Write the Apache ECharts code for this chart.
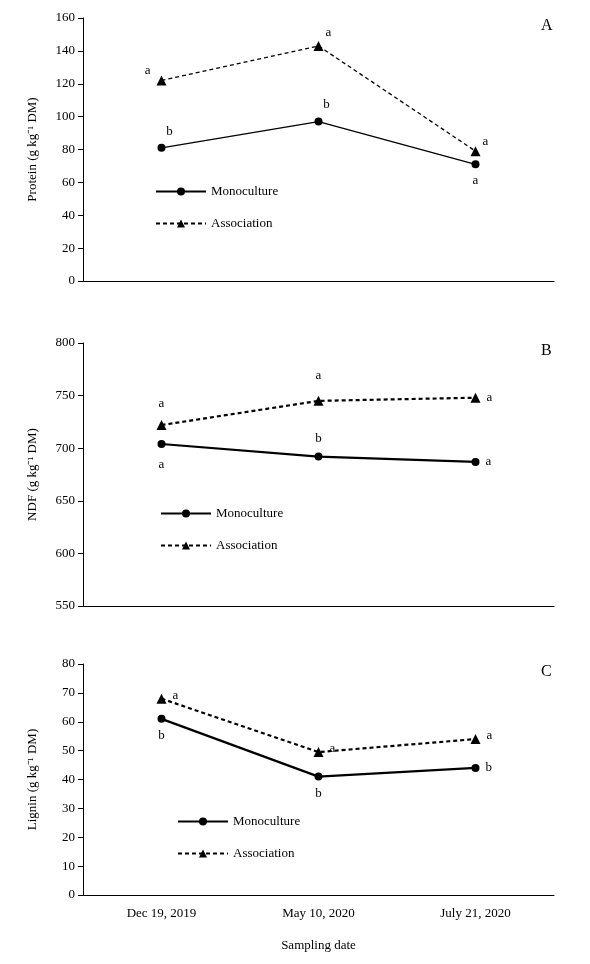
<!DOCTYPE html>
<html><head><meta charset="utf-8">
<script src="https://cdn.jsdelivr.net/npm/echarts@6/dist/echarts.min.js"></script>
<style>html,body{margin:0;background:#fff}#c{width:590px;height:964px}</style>
</head><body><div id="c"></div>
<script>
const categories = ['Dec 19, 2019', 'May 10, 2020', 'July 21, 2020'];
const proteinMono = [81, 97, 71];
const proteinAssoc = [122, 143, 79];
const ndfMono = [704, 692, 687];
const ndfAssoc = [722, 745, 748];
const ligninMono = [61, 41, 44];
const ligninAssoc = [68, 49.5, 54];
const proteinMonoLetters = ['b', 'b', 'a'];
const proteinAssocLetters = ['a', 'a', 'a'];
const ndfMonoLetters = ['a', 'b', 'a'];
const ndfAssocLetters = ['a', 'a', 'a'];
const ligninMonoLetters = ['b', 'b', 'b'];
const ligninAssocLetters = ['a', 'a', 'a'];
const yTitles = ['Protein (g kg⁻¹ DM)', 'NDF (g kg⁻¹ DM)', 'Lignin (g kg⁻¹ DM)'];
const panelLabels = ['A', 'B', 'C'];

const F = 'Liberation Serif';
const grids = [
  {left: 83, top: 18, width: 471, height: 263},
  {left: 83, top: 343, width: 471, height: 263},
  {left: 83, top: 664, width: 471, height: 231}
];
const yAx = [{min: 0, max: 160, interval: 20}, {min: 550, max: 800, interval: 50}, {min: 0, max: 80, interval: 10}];
const lw = [1.3, 2.2, 2.2];
function items(vals, letters, pos) {
  return vals.map((v, i) => ({value: v, label: {show: true, formatter: letters[i], position: pos[i][0], offset: pos[i][1] || [0, 0], distance: 6}}));
}
const pos = {
  pm: [['top', [8, 0]], ['top', [8, 0]], ['bottom']],
  pa: [['left', [0, -10]], ['top', [10, 4]], ['top', [10, 8]]],
  nm: [['bottom', [0, 4]], ['top', [0, -2]], ['right']],
  na: [['top', [0, -4]], ['top', [0, -8]], ['right']],
  lm: [['bottom'], ['bottom'], ['right']],
  la: [['right', [0, -3]], ['right', [0, -3]], ['right', [0, -3]]]
};
const data = [
  [proteinMono, proteinMonoLetters, pos.pm, proteinAssoc, proteinAssocLetters, pos.pa],
  [ndfMono, ndfMonoLetters, pos.nm, ndfAssoc, ndfAssocLetters, pos.na],
  [ligninMono, ligninMonoLetters, pos.lm, ligninAssoc, ligninAssocLetters, pos.la]
];
const series = [];
data.forEach((d, g) => {
  series.push({name: 'Monoculture', type: 'line', xAxisIndex: g, yAxisIndex: g, data: items(d[0], d[1], d[2]),
    symbol: 'circle', symbolSize: 8, lineStyle: {color: '#000', width: lw[g]}, itemStyle: {color: '#000'},
    label: {color: '#000', fontFamily: F, fontSize: 13}});
  series.push({name: 'Association', type: 'line', xAxisIndex: g, yAxisIndex: g, data: items(d[3], d[4], d[5]),
    symbol: 'triangle', symbolSize: 10, lineStyle: {color: '#000', width: lw[g], type: [4, 3]}, itemStyle: {color: '#000'},
    label: {color: '#000', fontFamily: F, fontSize: 13}});
});
const legendPos = [[150, 180], [155, 502], [172, 810]];
const option = {
  animation: false,
  grid: grids,
  xAxis: grids.map((_, g) => ({gridIndex: g, type: 'category', data: categories,
    axisLine: {lineStyle: {color: '#000'}}, axisTick: {lineStyle: {color: '#000'}, length: 5},
    axisLabel: {show: g === 2, color: '#000', fontFamily: F, fontSize: 13, margin: 12},
    name: g === 2 ? 'Sampling date' : '', nameLocation: 'middle', nameGap: 44,
    nameTextStyle: {color: '#000', fontFamily: F, fontSize: 13}})),
  yAxis: grids.map((_, g) => ({gridIndex: g, type: 'value', ...yAx[g], splitLine: {show: false},
    axisLine: {show: true, lineStyle: {color: '#000'}}, axisTick: {show: true, lineStyle: {color: '#000'}, length: 5},
    axisLabel: {color: '#000', fontFamily: F, fontSize: 13, margin: 8},
    name: yTitles[g], nameLocation: 'middle', nameGap: 44, nameTextStyle: {color: '#000', fontFamily: F, fontSize: 13}})),
  legend: legendPos.map(p => ({left: p[0], top: p[1], orient: 'vertical', itemGap: 19, itemWidth: 50, itemHeight: 10,
    data: ['Monoculture', 'Association'], selectedMode: false,
    textStyle: {color: '#000', fontFamily: F, fontSize: 13}})),
  graphic: panelLabels.map((t, g) => ({type: 'text', left: 541, top: grids[g].top + 0,
    style: {text: t, fill: '#000', font: '16px "Liberation Serif"'}})),
  series: series
};
echarts.init(document.getElementById('c')).setOption(option);
</script></body></html>
